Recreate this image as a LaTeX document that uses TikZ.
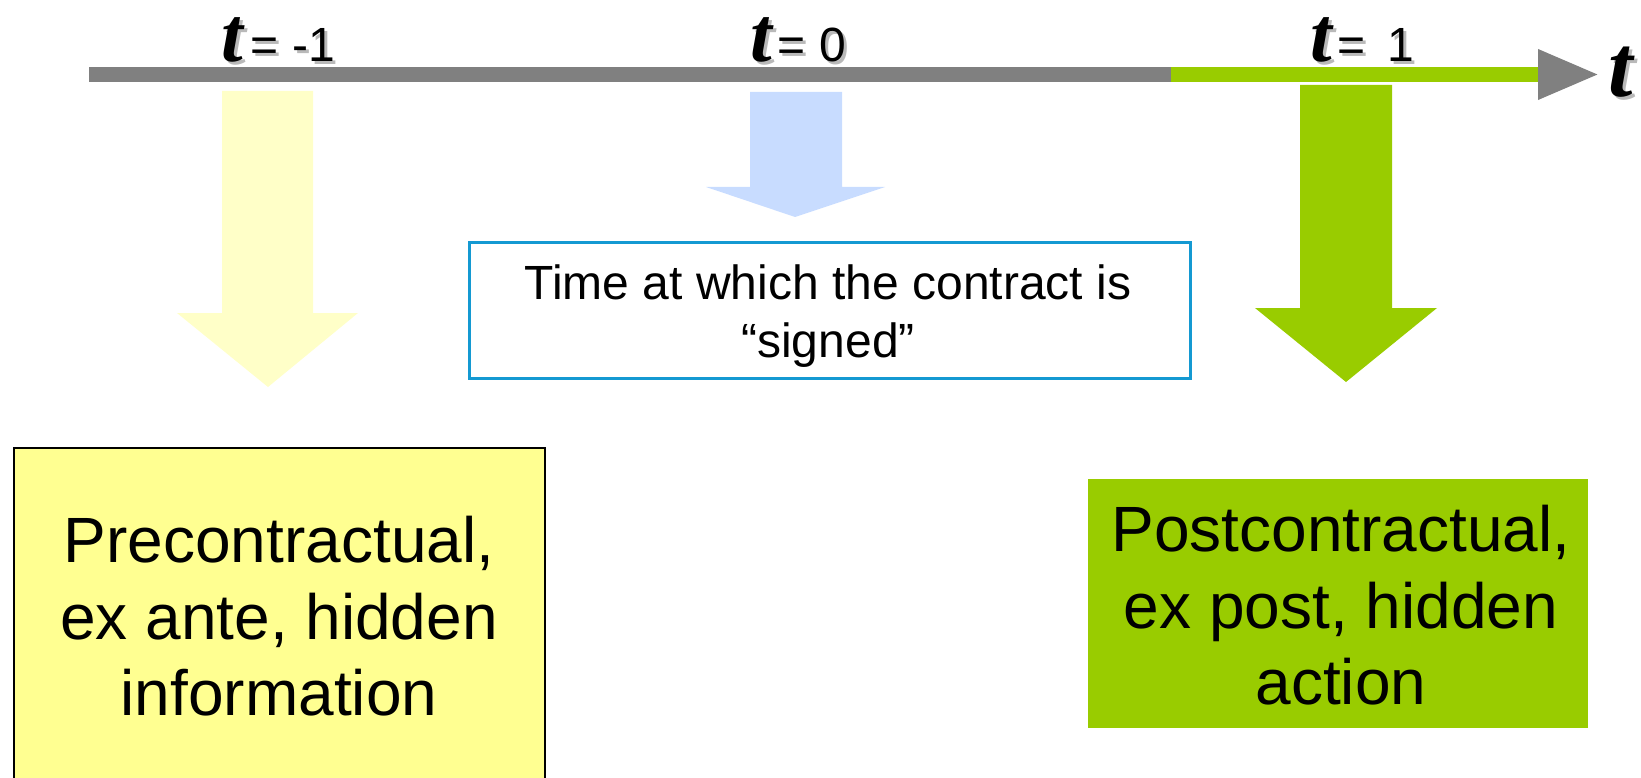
\documentclass[tikz,border=0pt]{standalone}
\usepackage{fontspec}
\setmainfont{Liberation Sans}
\newfontfamily\tfont{Liberation Serif}
\usetikzlibrary{arrows.meta}
\definecolor{axisgray}{RGB}{128,128,128}
\definecolor{lime}{RGB}{153,204,0}
\definecolor{shadowgray}{RGB}{185,185,185}
\definecolor{yboxfill}{RGB}{255,255,145}
\definecolor{yarrowfill}{RGB}{255,255,200}
\definecolor{barrowfill}{RGB}{200,220,255}
\definecolor{midborder}{RGB}{20,153,210}
\newcommand{\shadowed}[2]{\makebox[0pt][l]{\hspace{#1}\raisebox{-#1}{\color{shadowgray}#2}}#2}
\newcommand{\tsym}{{\fontsize{78}{84}\selectfont\shadowed{3pt}{\tfont\bfseries\itshape t}}}
\newcommand{\eqtext}[1]{{\fontsize{48}{56}\selectfont\shadowed{3pt}{#1}}}
\tikzset{
  tlabel/.style={inner sep=0pt, anchor=base west, text height=50pt, text depth=0pt},
  bigtext/.style={inner sep=0pt, anchor=north, align=center, font=\fontsize{64}{76.5}\selectfont},
  midtext/.style={inner sep=0pt, anchor=north, align=center, font=\fontsize{48}{58}\selectfont},
  prebox/.style={draw=black, line width=2pt, fill=yboxfill, anchor=north west, inner sep=0pt},
  postbox/.style={fill=lime, anchor=north west, inner sep=0pt},
  midbox/.style={draw=midborder, line width=2.5pt, fill=white, anchor=north west, inner sep=0pt},
}
\begin{document}
\begin{tikzpicture}[x=1pt,y=-1pt]
\useasboundingbox (0,0) rectangle (1641,778);
% timeline
\coordinate (axs) at (89,74.5);
\coordinate (axe) at (1600,74.5);
\coordinate (gs) at (1171,74.5);
\coordinate (ge) at (1538,74.5);
\draw[line width=15pt, axisgray, -{Triangle[length=62pt,width=46pt]}] (axs) -- (axe);
\draw[line width=15pt, lime] (gs) -- (ge);
% labels
\node[tlabel] (tA) at (221,62) {\tsym\hspace{8pt}\eqtext{= -1}};
\node[tlabel] (tB) at (750,62) {\tsym\hspace{6pt}\eqtext{= 0}};
\node[tlabel] (tC) at (1310,62) {\tsym\hspace{6pt}\eqtext{= \,1}};
\node[tlabel] (tT) at (1608,97) {{\fontsize{88}{92}\selectfont\shadowed{3pt}{\tfont\bfseries\itshape t}}};
% block arrows
\fill[yarrowfill] (222,91) -- (313,91) -- (313,313) -- (358,313) -- (268,387) -- (177,313) -- (222,313) -- cycle;
\fill[barrowfill] (750,92) -- (842,92) -- (842,187) -- (885,187) -- (795,217) -- (706,187) -- (750,187) -- cycle;
\fill[lime] (1300,85) -- (1392,85) -- (1392,308) -- (1437,308) -- (1346,382) -- (1255,308) -- (1300,308) -- cycle;
% boxes
\node[midbox, minimum width=721pt, minimum height=136pt] (mid) at (468,241) {};
\node[midtext] (midt) at (828,265) {Time at which the contract is\\``signed''};
\node[prebox, minimum width=531pt, minimum height=420pt] (pre) at (13,447) {};
\node[bigtext] (pret) at (279,516) {Precontractual,\\ex ante, hidden\\information};
\node[postbox, minimum width=500pt, minimum height=249pt] (post) at (1088,479) {};
\node[bigtext] (postt) at (1341,505) {Postcontractual,\\ex post, hidden\\action};
\end{tikzpicture}
\end{document}
